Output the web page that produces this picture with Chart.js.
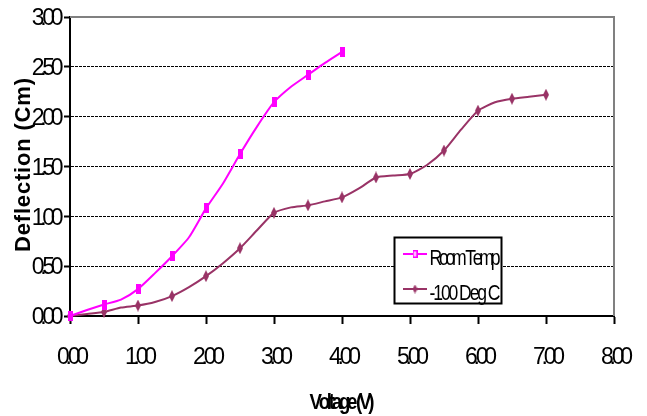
<!DOCTYPE html>
<html>
<head>
<meta charset="utf-8">
<script src="https://cdn.jsdelivr.net/npm/chart.js@4.4.0/dist/chart.umd.min.js"></script>
<style>
    html, body { margin: 0; padding: 0; background: #fff; }
</style>
</head>
<body>
<canvas id="grafico" width="647" height="416"></canvas>
<script>
// valores
const tensaoRoom = [0, 0.25, 0.5, 0.75, 1, 1.25, 1.5, 1.75, 2, 2.25, 2.5, 2.75, 3, 3.25, 3.5, 3.75, 4];
const deflexaoRoom = [0, 0.06, 0.115, 0.165, 0.27, 0.43, 0.60, 0.79, 1.08, 1.33, 1.625, 1.90, 2.145, 2.30, 2.42, 2.54, 2.65];

const tensaoFrio = [0, 0.25, 0.5, 0.75, 1, 1.25, 1.5, 1.75, 2, 2.25, 2.5, 2.75, 3, 3.25, 3.5,
    3.75, 4, 4.25, 4.5, 4.75, 5, 5.25, 5.5, 5.75, 6, 6.25, 6.5, 6.75, 7];
const deflexaoFrio = [0, 0.02, 0.04, 0.085, 0.105, 0.14, 0.20, 0.29, 0.40, 0.53, 0.68, 0.86, 1.035, 1.09, 1.11,
    1.15, 1.19, 1.28, 1.39, 1.41, 1.425, 1.515, 1.66, 1.87, 2.06, 2.145, 2.18, 2.20, 2.22];

const ticksX = [0, 1, 2, 3, 4, 5, 6, 7, 8];
const ticksY = [0, 0.5, 1, 1.5, 2, 2.5, 3];
const nomesSeries = ['Room Temp', '-100 Deg C'];
const tituloX = 'Voltage (V)';
const tituloY = 'Deflection (Cm)';

const ROSA = '#FF00FF';
const ROXO = '#993366';
const FONTE = '"Liberation Sans", Arial, sans-serif';

// marcadores (retangulo estreito e losango)
function marcadorRet(cor, w, h, vazado) {
    const c = document.createElement('canvas');
    c.width = w; c.height = h;
    const g = c.getContext('2d');
    g.fillStyle = cor;
    g.fillRect(0, 0, w, h);
    if (vazado) { g.fillStyle = '#fff'; g.fillRect(1.5, 1.5, w - 3, h - 3); }
    return c;
}
function marcadorLosango(cor, w, h) {
    const c = document.createElement('canvas');
    c.width = w; c.height = h;
    const g = c.getContext('2d');
    g.fillStyle = cor;
    g.beginPath();
    g.moveTo(w / 2, 0); g.lineTo(w, h / 2); g.lineTo(w / 2, h); g.lineTo(0, h / 2);
    g.closePath(); g.fill();
    return c;
}
const mkRosa = marcadorRet(ROSA, 5, 10, false);
const mkRoxo = marcadorLosango(ROXO, 6, 12);
const mkRosaLeg = marcadorRet(ROSA, 5, 8, true);
const mkRoxoLeg = marcadorLosango(ROXO, 5, 9);

function pontos(xs, ys) {
    return xs.map((x, i) => ({ x: x, y: ys[i] }));
}

// texto comprimido, desenhado letra a letra
function textoApertado(ctx, txt, x, y, fonte, espaco, escala, alinhar, alvo) {
    ctx.save();
    ctx.font = fonte;
    ctx.fillStyle = '#000';
    ctx.textBaseline = 'alphabetic';
    ctx.textAlign = 'left';
    const letras = [...txt];
    const larguras = letras.map(c => ctx.measureText(c).width);
    const soma = larguras.reduce((a, b) => a + b, 0);
    if (alvo) espaco = (alvo / escala - soma) / (letras.length - 1);
    const total = (soma + espaco * (letras.length - 1)) * escala;
    let x0 = x;
    if (alinhar === 'right') x0 = x - total;
    if (alinhar === 'center') x0 = x - total / 2;
    ctx.translate(x0, y);
    ctx.scale(escala, 1);
    let pos = 0;
    letras.forEach((c, i) => { ctx.fillText(c, pos, 0); pos += larguras[i] + espaco; });
    ctx.restore();
}

const pluginTextos = {
    id: 'textos',
    afterDraw(chart) {
        const ctx = chart.ctx;
        const area = chart.chartArea;
        const sx = chart.scales.x;
        const sy = chart.scales.y;

        // borda cinza do topo e da direita
        ctx.save();
        ctx.strokeStyle = '#808080';
        ctx.lineWidth = 2;
        ctx.beginPath();
        ctx.moveTo(area.left, area.top);
        ctx.lineTo(area.right, area.top);
        ctx.lineTo(area.right, area.bottom);
        ctx.stroke();
        ctx.restore();

        // rotulos dos eixos
        ticksY.forEach(v => {
            textoApertado(ctx, v.toFixed(2), 63.5, sy.getPixelForValue(v) + 8.3, '23px ' + FONTE, -4.3, 1, 'right');
        });
        ticksX.forEach(v => {
            textoApertado(ctx, v.toFixed(2), sx.getPixelForValue(v) + 3, 363.5, '23px ' + FONTE, -4.3, 1, 'center');
        });

        // titulos
        textoApertado(ctx, tituloX, 342, 408.5, 'bold 22px ' + FONTE, 0, 0.85, 'center', 65);
        ctx.save();
        ctx.translate(29.5, 165);
        ctx.rotate(-Math.PI / 2);
        textoApertado(ctx, tituloY, 0, 0, 'bold 22px ' + FONTE, 0, 1, 'center', 174);
        ctx.restore();

        // legenda
        ctx.save();
        ctx.fillStyle = '#fff';
        ctx.fillRect(394.5, 237.5, 107, 66);
        ctx.strokeStyle = '#000';
        ctx.lineWidth = 2;
        ctx.strokeRect(394.5, 237.5, 107, 66);
        const linhas = [
            { y: 254, cor: ROSA, mk: mkRosaLeg },
            { y: 289, cor: ROXO, mk: mkRoxoLeg }
        ];
        linhas.forEach((l, i) => {
            ctx.strokeStyle = l.cor;
            ctx.lineWidth = 2;
            ctx.beginPath();
            ctx.moveTo(403, l.y);
            ctx.lineTo(427, l.y);
            ctx.stroke();
            ctx.drawImage(l.mk, 415 - l.mk.width / 2, l.y - l.mk.height / 2);
            textoApertado(ctx, nomesSeries[i], 429.5, l.y + 11, '22px ' + FONTE, 0, 0.8, 'left', 71);
        });
        ctx.restore();
    }
};

const raioMarcador = (c) => (c.dataIndex % 2 === 0 ? 5 : 0);

new Chart(document.getElementById('grafico'), {
    type: 'line',
    data: {
        datasets: [
            {
                label: nomesSeries[0],
                data: pontos(tensaoRoom, deflexaoRoom),
                borderColor: ROSA,
                backgroundColor: ROSA,
                borderWidth: 2,
                tension: 0.2,
                pointStyle: mkRosa,
                pointRadius: raioMarcador,
                clip: false
            },
            {
                label: nomesSeries[1],
                data: pontos(tensaoFrio, deflexaoFrio),
                borderColor: ROXO,
                backgroundColor: ROXO,
                borderWidth: 2,
                tension: 0.2,
                pointStyle: mkRoxo,
                pointRadius: raioMarcador,
                clip: false
            }
        ]
    },
    options: {
        responsive: false,
        devicePixelRatio: 1,
        animation: false,
        layout: { padding: { top: 17, right: 33, left: 0, bottom: 0 } },
        plugins: {
            legend: { display: false },
            tooltip: { enabled: false }
        },
        scales: {
            x: {
                type: 'linear',
                min: 0,
                max: 8,
                afterBuildTicks: (s) => { s.ticks = ticksX.map(v => ({ value: v })); },
                afterFit: (s) => { s.height = 100; },
                ticks: { display: false },
                grid: {
                    display: true,
                    drawOnChartArea: false,
                    drawTicks: true,
                    tickLength: 8,
                    tickWidth: 2,
                    tickColor: '#000'
                },
                border: { color: '#000', width: 2 }
            },
            y: {
                min: 0,
                max: 3,
                afterBuildTicks: (s) => { s.ticks = ticksY.map(v => ({ value: v })); },
                afterFit: (s) => { s.width = 70; },
                ticks: { display: false },
                grid: {
                    color: (c) => (c.tick && c.tick.value === 0 ? 'rgba(0,0,0,0)' : '#000'),
                    lineWidth: 1,
                    drawTicks: true,
                    tickLength: 6,
                    tickWidth: 2,
                    tickColor: '#000'
                },
                border: { color: '#000', width: 2, dash: [3, 1] }
            }
        }
    },
    plugins: [pluginTextos]
});
</script>
</body>
</html>
